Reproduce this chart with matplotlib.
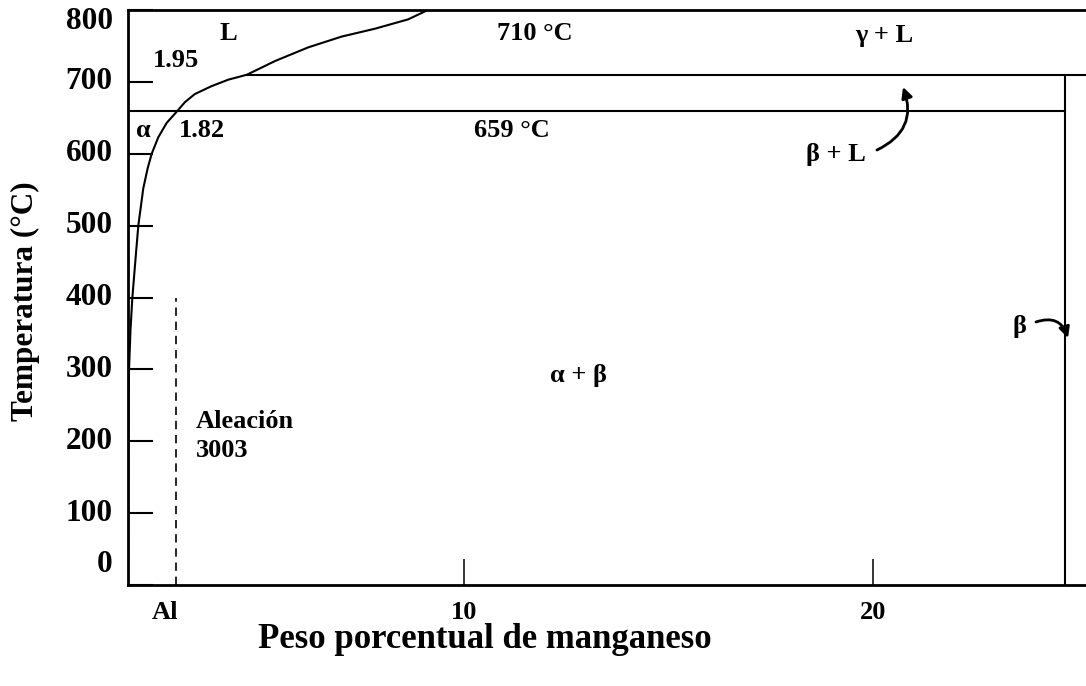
import numpy as np
import matplotlib.pyplot as plt

plt.rcParams['font.family'] = ['Liberation Serif', 'DejaVu Serif']
plt.rcParams['font.weight'] = 'bold'

# Al-rich boundary (solvus below 659 C, liquidus above 710 C), wt% Mn vs C
curve_mn = [0.0, 0.011, 0.037, 0.093, 0.160, 0.260, 0.383, 0.568, 0.732,
            0.880, 1.126, 1.438, 1.82, 1.835, 1.853, 1.884, 1.915, 1.95,
            2.99, 4.22, 5.46, 6.70, 7.93, 8.66]
curve_t = [0, 202, 299, 355, 399, 445, 500, 552, 580,
           600, 623, 643, 659, 672, 683, 694, 703, 710,
           729, 748, 763, 774, 787, 800]

eutectic_t = 659      # alpha + L -> alpha + beta
peritectic_t = 710    # gamma + L -> beta
eutectic_mn = 1.82
peritectic_mn = 1.95
beta_mn = 25.3        # Al6Mn
alloy_mn = 1.78       # alloy 3003
alloy_top = 400

ytick_vals = [0, 100, 200, 300, 400, 500, 600, 700, 800]
xtick_vals = [10, 20]

# the low-Mn end is drawn stretched, so the x axis is piecewise linear
mn_knots = [0, 1.82, 1.95, 10, 20, 25.3, 30]
pos_knots = [0, 49, 119, 336, 745, 937, 1107]


def fwd(x):
    return np.interp(x, mn_knots, pos_knots)


def inv(p):
    return np.interp(p, pos_knots, mn_knots)


fig = plt.figure(figsize=(10.86, 6.86), dpi=100)
ax = fig.add_axes([128 / 1086, 1 - 585 / 686, 958 / 1086, 575 / 686])
ax.set_xscale('function', functions=(fwd, inv))
ax.set_xlim(0, inv(958))
ax.set_ylim(0, 800)

lw = 1.5
ax.plot(curve_mn, curve_t, color='black', lw=lw, solid_joinstyle='round')
ax.plot([0, beta_mn], [eutectic_t, eutectic_t], color='black', lw=lw)
ax.plot([peritectic_mn, 30], [peritectic_t, peritectic_t], color='black', lw=lw)
ax.plot([beta_mn, beta_mn], [0, peritectic_t], color='black', lw=lw)
ax.plot([alloy_mn, alloy_mn], [0, alloy_top], color='black', lw=1.2,
        linestyle=(0, (5, 3.5)))

ax.spines['right'].set_visible(False)
for side in ['left', 'bottom', 'top']:
    ax.spines[side].set_linewidth(2)

ax.set_yticks(ytick_vals)
ax.set_xticks(xtick_vals)
ax.tick_params(axis='y', direction='in', length=18, width=1.5, labelleft=False)
ax.tick_params(axis='x', direction='in', length=19, width=1.1, labelbottom=False)
ax.xaxis.set_minor_locator(plt.NullLocator())

fs = 19
# temperature labels, end ones nudged inside the frame
for t in ytick_vals:
    dy = -8.6 if t == 800 else (14.4 if t == 0 else 0)
    ax.annotate(str(t), xy=(0, t), xycoords=('axes fraction', 'data'),
                xytext=(-11, dy), textcoords='offset points',
                ha='right', va='center', fontsize=22.5, fontweight='bold')
for v in xtick_vals:
    ax.annotate(str(v), xy=(v, 0), xycoords=('data', 'axes fraction'),
                xytext=(0, -19.5), textcoords='offset points',
                ha='center', va='center', fontsize=fs, fontweight='bold')
ax.annotate('Al', xy=(0.0386, 0), xycoords='axes fraction',
            xytext=(0, -19.5), textcoords='offset points',
            ha='center', va='center', fontsize=fs, fontweight='bold')

fig.text(485 / 1086, 1 - 640 / 686, 'Peso porcentual de manganeso',
         ha='center', va='center', fontsize=25, fontweight='bold')
fig.text(25 / 1086, 1 - 301 / 686, 'Temperatura (°C)', rotation=90,
         ha='center', va='center', fontsize=22.5, fontweight='bold')

labels = [
    ('L', 0.1044, 0.960),
    ('1.95', 0.0501, 0.913),
    ('710 °C', 0.4248, 0.960),
    ('γ + L', 0.789, 0.955),
    ('α', 0.0157, 0.7896),
    ('1.82', 0.0772, 0.7896),
    ('659 °C', 0.4008, 0.7896),
    ('β + L', 0.739, 0.748),
    ('α + β', 0.4697, 0.365),
    ('β', 0.931, 0.4487),
]
for txt, fx, fy in labels:
    ax.text(fx, fy, txt, transform=ax.transAxes, ha='center', va='center',
            fontsize=fs, fontweight='bold')
ax.text(0.071, 0.259, 'Aleación\n3003', transform=ax.transAxes,
        ha='left', va='center', fontsize=fs, fontweight='bold',
        linespacing=1.34)

# curved pointers for the narrow fields
ax.annotate('', xy=(0.8090, 0.8661), xycoords='axes fraction',
            xytext=(0.7818, 0.7565), textcoords='axes fraction',
            arrowprops=dict(arrowstyle='-|>', color='black', lw=2,
                            mutation_scale=16, shrinkA=0, shrinkB=0,
                            connectionstyle='arc3,rad=0.45'))
ax.annotate('', xy=(0.9812, 0.4296), xycoords='axes fraction',
            xytext=(0.9478, 0.4574), textcoords='axes fraction',
            arrowprops=dict(arrowstyle='-|>', color='black', lw=2,
                            mutation_scale=16, shrinkA=0, shrinkB=0,
                            connectionstyle='arc3,rad=-0.5'))

fig.savefig('out.png', dpi=100)
